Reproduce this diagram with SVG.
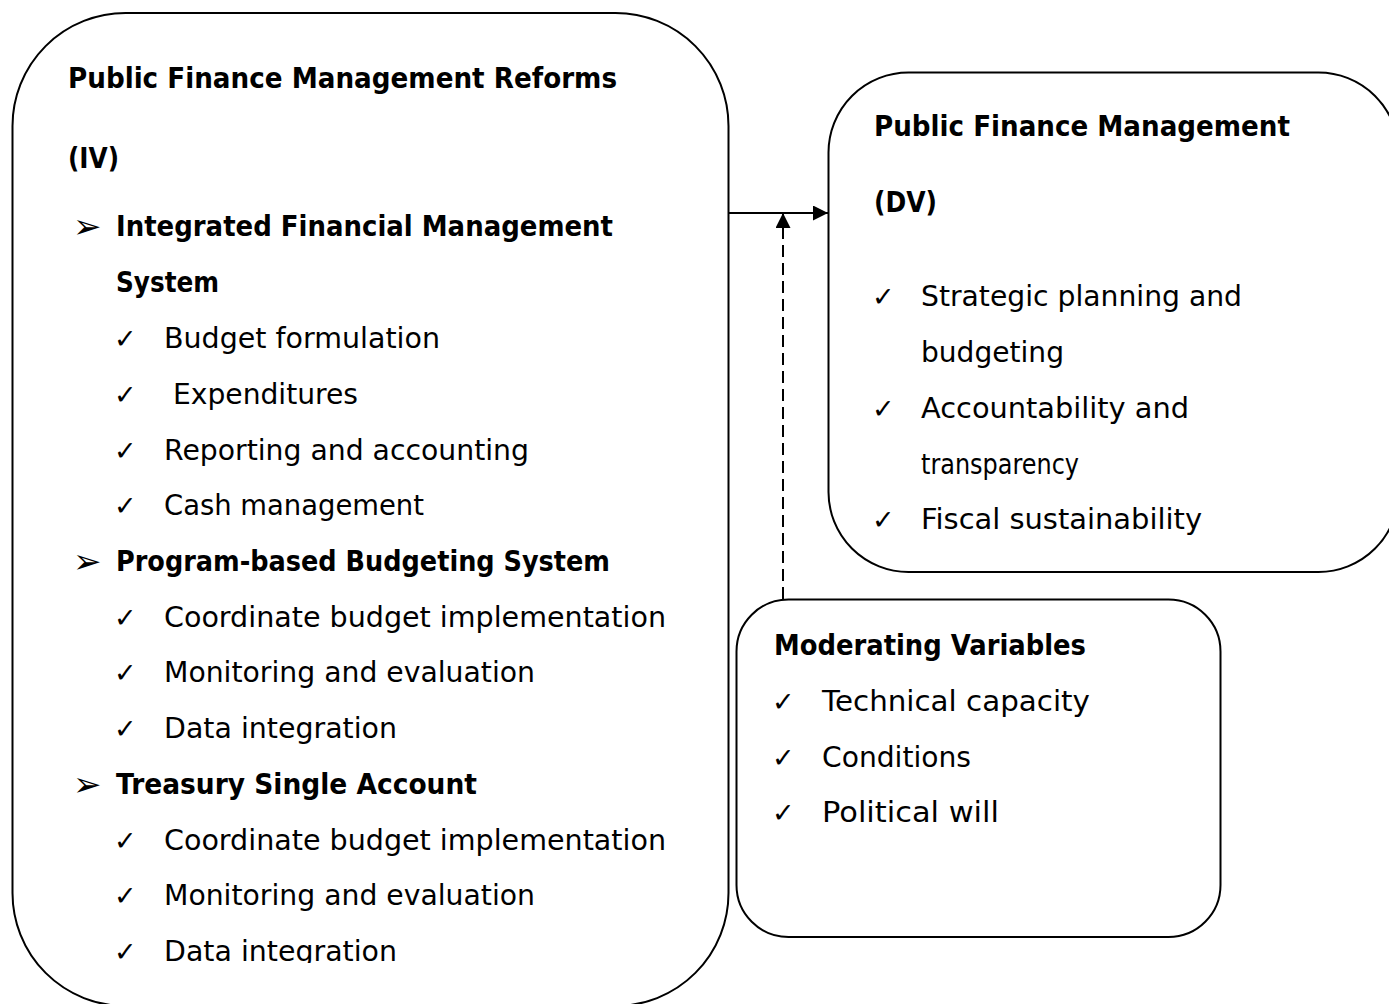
<svg xmlns="http://www.w3.org/2000/svg" width="1389" height="1004" viewBox="0 0 1389 1004">
  <style>
    .box { fill: none; stroke: #000; stroke-width: 2; }
    .t { font-family: "DejaVu Sans", "Liberation Sans", sans-serif; font-size: 28px; fill: #000; }
    .b { font-weight: bold; }
    .ck { font-family: "DejaVu Sans", sans-serif; font-size: 27px; fill: #000; }
    .bul { font-family: "DejaVu Sans", sans-serif; font-size: 34px; fill: #000; }
    .link { fill: none; stroke: #000; stroke-width: 2; }
    .dash { stroke-dasharray: 12 6; }
  </style>
  <defs>
    <marker id="head" markerUnits="userSpaceOnUse" markerWidth="16" markerHeight="16" refX="15" refY="7.5" orient="auto">
      <path d="M0,0 L15,7.5 L0,15 z" fill="#000"/>
    </marker>
    <clipPath id="leftClip">
      <rect x="0" y="0" width="740" height="963"/>
    </clipPath>
  </defs>

  <rect width="1389" height="1004" fill="#fff"/>

  <!-- Independent variable: PFM reforms -->
  <g id="node-reforms">
    <rect class="box" x="12.5" y="13" width="716" height="993" rx="113" ry="113"/>
    <g clip-path="url(#leftClip)">
      <text class="t b" x="68" y="88" textLength="549" lengthAdjust="spacingAndGlyphs">Public Finance Management Reforms</text>
      <text class="t b" x="68" y="168" textLength="51" lengthAdjust="spacingAndGlyphs">(IV)</text>

      <text class="bul" x="73" y="238">➢</text>
      <text class="t b" x="116" y="236" textLength="497" lengthAdjust="spacingAndGlyphs">Integrated Financial Management</text>
      <text class="t b" x="116" y="292" textLength="103" lengthAdjust="spacingAndGlyphs">System</text>
      <text class="ck" x="114" y="348">✓</text>
      <text class="t" x="164" y="348" textLength="276" lengthAdjust="spacingAndGlyphs">Budget formulation</text>
      <text class="ck" x="114" y="404">✓</text>
      <text class="t" x="173" y="404" textLength="185" lengthAdjust="spacingAndGlyphs">Expenditures</text>
      <text class="ck" x="114" y="460">✓</text>
      <text class="t" x="164" y="460" textLength="365" lengthAdjust="spacingAndGlyphs">Reporting and accounting</text>
      <text class="ck" x="114" y="515">✓</text>
      <text class="t" x="164" y="515" textLength="260" lengthAdjust="spacingAndGlyphs">Cash management</text>

      <text class="bul" x="73" y="573">➢</text>
      <text class="t b" x="116" y="571" textLength="494" lengthAdjust="spacingAndGlyphs">Program-based Budgeting System</text>
      <text class="ck" x="114" y="627">✓</text>
      <text class="t" x="164" y="627" textLength="502" lengthAdjust="spacingAndGlyphs">Coordinate budget implementation</text>
      <text class="ck" x="114" y="682">✓</text>
      <text class="t" x="164" y="682" textLength="371" lengthAdjust="spacingAndGlyphs">Monitoring and evaluation</text>
      <text class="ck" x="114" y="738">✓</text>
      <text class="t" x="164" y="738" textLength="233" lengthAdjust="spacingAndGlyphs">Data integration</text>

      <text class="bul" x="73" y="796">➢</text>
      <text class="t b" x="116" y="794" textLength="361" lengthAdjust="spacingAndGlyphs">Treasury Single Account</text>
      <text class="ck" x="114" y="850">✓</text>
      <text class="t" x="164" y="850" textLength="502" lengthAdjust="spacingAndGlyphs">Coordinate budget implementation</text>
      <text class="ck" x="114" y="905">✓</text>
      <text class="t" x="164" y="905" textLength="371" lengthAdjust="spacingAndGlyphs">Monitoring and evaluation</text>
      <text class="ck" x="114" y="961">✓</text>
      <text class="t" x="164" y="961" textLength="233" lengthAdjust="spacingAndGlyphs">Data integration</text>
    </g>
  </g>

  <!-- Dependent variable: PFM -->
  <g id="node-pfm">
    <rect class="box" x="828.5" y="72.5" width="570" height="499.5" rx="80" ry="80"/>
    <text class="t b" x="874" y="136" textLength="416" lengthAdjust="spacingAndGlyphs">Public Finance Management</text>
    <text class="t b" x="874" y="212" textLength="63" lengthAdjust="spacingAndGlyphs">(DV)</text>
    <text class="ck" x="872" y="306">✓</text>
    <text class="t" x="921" y="306" textLength="321" lengthAdjust="spacingAndGlyphs">Strategic planning and</text>
    <text class="t" x="921" y="362" textLength="143" lengthAdjust="spacingAndGlyphs">budgeting</text>
    <text class="ck" x="872" y="418">✓</text>
    <text class="t" x="921" y="418" textLength="268" lengthAdjust="spacingAndGlyphs">Accountability and</text>
    <text class="t" x="921" y="474" textLength="158" lengthAdjust="spacingAndGlyphs">transparency</text>
    <text class="ck" x="872" y="529">✓</text>
    <text class="t" x="921" y="529" textLength="281" lengthAdjust="spacingAndGlyphs">Fiscal sustainability</text>
  </g>

  <!-- Moderating variables -->
  <g id="node-moderating">
    <rect class="box" x="736.5" y="599.5" width="484" height="337.5" rx="52" ry="52"/>
    <text class="t b" x="774" y="655" textLength="312" lengthAdjust="spacingAndGlyphs">Moderating Variables</text>
    <text class="ck" x="772" y="711">✓</text>
    <text class="t" x="822" y="711" textLength="268" lengthAdjust="spacingAndGlyphs">Technical capacity</text>
    <text class="ck" x="772" y="767">✓</text>
    <text class="t" x="822" y="767" textLength="149" lengthAdjust="spacingAndGlyphs">Conditions</text>
    <text class="ck" x="772" y="822">✓</text>
    <text class="t" x="822" y="822" textLength="177" lengthAdjust="spacingAndGlyphs">Political will</text>
  </g>

  <!-- Connectors -->
  <g id="connectors">
    <line class="link" x1="728.5" y1="213" x2="828" y2="213" marker-end="url(#head)"/>
    <line class="link dash" x1="783" y1="599" x2="783" y2="213" marker-end="url(#head)"/>
  </g>
</svg>
